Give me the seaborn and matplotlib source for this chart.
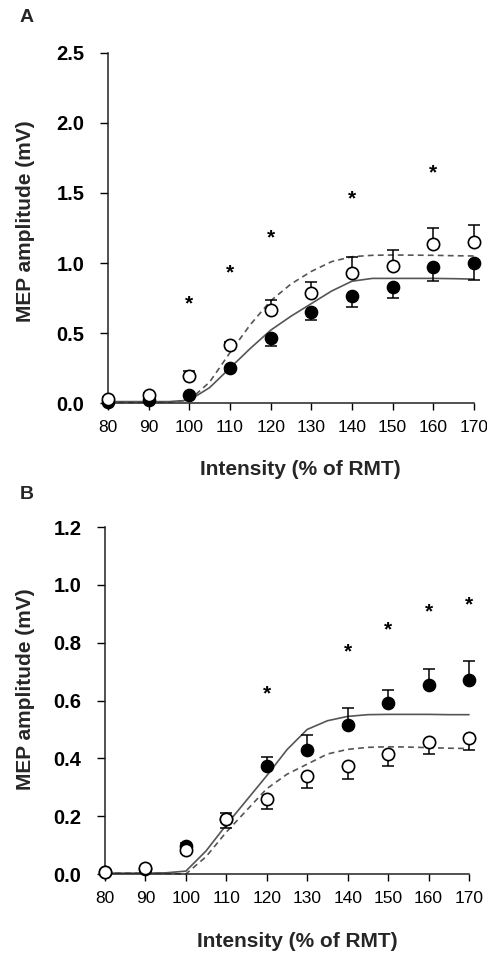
import pandas as pd
import matplotlib.pyplot as plt
import seaborn as sns

# -----------------------------
# Data
# -----------------------------
intensity = [80, 90, 100, 110, 120, 130, 140, 150, 160, 170]

# Panel A
a_filled = [0.01, 0.02, 0.06, 0.25, 0.465, 0.647, 0.764, 0.83, 0.974, 1.00]
a_filled_se = [0.005, 0.005, 0.02, 0.02, 0.055, 0.057, 0.075, 0.08, 0.10, 0.12]
a_open = [0.03, 0.06, 0.196, 0.413, 0.663, 0.783, 0.93, 0.98, 1.136, 1.15]
a_open_se = [0.01, 0.01, 0.03, 0.025, 0.07, 0.08, 0.11, 0.11, 0.115, 0.12]
a_star_x = [100, 110, 120, 140, 160]
a_star_y = [0.71, 0.93, 1.18, 1.455, 1.645]

# Panel B
b_filled = [0.008, 0.018, 0.098, 0.19, 0.373, 0.43, 0.515, 0.593, 0.653, 0.672]
b_filled_se = [0.005, 0.005, 0.008, 0.02, 0.032, 0.05, 0.06, 0.043, 0.056, 0.065]
b_open = [0.008, 0.02, 0.083, 0.189, 0.258, 0.338, 0.373, 0.414, 0.457, 0.471]
b_open_se = [0.005, 0.005, 0.01, 0.03, 0.034, 0.04, 0.043, 0.041, 0.043, 0.043]
b_star_x = [120, 140, 150, 160, 170]
b_star_y = [0.622, 0.768, 0.843, 0.906, 0.929]

# Fitted curves, sampled from the figure
fit_x = [80, 85, 90, 95, 100, 105, 110, 115, 120, 125,
         130, 135, 140, 145, 150, 155, 160, 165, 170]
a_fit_solid = [0.01, 0.01, 0.01, 0.01, 0.02, 0.11, 0.25, 0.39, 0.52, 0.62,
               0.71, 0.80, 0.87, 0.89, 0.89, 0.89, 0.89, 0.888, 0.885]
a_fit_dashed = [0.005, 0.005, 0.005, 0.006, 0.02, 0.15, 0.36, 0.56, 0.73, 0.85,
                0.94, 1.01, 1.045, 1.055, 1.057, 1.056, 1.055, 1.052, 1.05]
b_fit_solid = [0.003, 0.003, 0.003, 0.004, 0.01, 0.08, 0.17, 0.255, 0.34, 0.43,
               0.50, 0.53, 0.545, 0.551, 0.552, 0.552, 0.552, 0.551, 0.551]
b_fit_dashed = [0.003, 0.003, 0.003, 0.002, 0.0, 0.06, 0.145, 0.22, 0.295, 0.345,
                0.38, 0.415, 0.431, 0.438, 0.44, 0.439, 0.437, 0.435, 0.434]

# -----------------------------
# Style
# -----------------------------
sns.set_theme(style="ticks")
plt.rcParams["font.family"] = ["Liberation Sans", "DejaVu Sans"]

fig = plt.figure(figsize=(4.87, 9.55), dpi=100)
W, H = 487, 955


def axes_px(left, right, top, bottom):
    return fig.add_axes([left / W, 1 - bottom / H, (right - left) / W, (bottom - top) / H])


def draw_panel(ax, filled, filled_se, filled_dir, opn, opn_se, open_dir,
               solid, dashed, star_x, star_y, ymax, ystep, lab_coords):
    curves = pd.DataFrame({"x": fit_x, "solid": solid, "dashed": dashed})
    sns.lineplot(data=curves, x="x", y="solid", ax=ax, color="#555555",
                 lw=1.2, clip_on=False)
    sns.lineplot(data=curves, x="x", y="dashed", ax=ax, color="#555555",
                 lw=1.2, clip_on=False).lines[-1].set_dashes((3.5, 2.5))

    def bars(vals, se, direction):
        yerr = [se, [0] * len(se)] if direction == "down" else [[0] * len(se), se]
        ax.errorbar(intensity, vals, yerr=yerr, fmt="none", ecolor="black",
                    elinewidth=1.1, capsize=4, capthick=1.1, clip_on=False, zorder=2)

    bars(filled, filled_se, filled_dir)
    bars(opn, opn_se, open_dir)

    pts = pd.DataFrame({"x": intensity, "filled": filled, "open": opn})
    sns.scatterplot(data=pts, x="x", y="filled", ax=ax, s=78, color="black",
                    edgecolor="black", linewidth=1.0, zorder=3, clip_on=False)
    sns.scatterplot(data=pts, x="x", y="open", ax=ax, s=78, color="white",
                    edgecolor="black", linewidth=1.2, zorder=4, clip_on=False)

    for sx, sy in zip(star_x, star_y):
        ax.text(sx, sy, "*", ha="center", va="center", fontsize=15,
                fontweight="bold", color="black")

    ax.set_xlim(80, 170)
    ax.set_ylim(0, ymax)
    ax.set_xticks(intensity)
    ticks = [round(i * ystep, 1) for i in range(int(round(ymax / ystep)) + 1)]
    ax.set_yticks(ticks)
    ax.set_yticklabels([f"{t:.1f}" for t in ticks], fontsize=14.5, fontweight="bold")
    ax.set_xticklabels([str(v) for v in intensity], fontsize=12.5)
    ax.tick_params(axis="y", direction="out", length=6, width=1, pad=11, colors="black")
    ax.tick_params(axis="x", direction="out", length=5, width=1, pad=7, colors="black")
    for sp in ["left", "bottom"]:
        ax.spines[sp].set_color("#222222")
        ax.spines[sp].set_linewidth(1.1)
    sns.despine(ax=ax)

    ax.set_xlabel("Intensity (% of RMT)", fontsize=15, fontweight="bold")
    ax.set_ylabel("MEP amplitude (mV)", fontsize=15, fontweight="bold")
    ax.xaxis.set_label_coords(*lab_coords[0])
    ax.yaxis.set_label_coords(*lab_coords[1])


# -----------------------------
# Panel A
# -----------------------------
axA = axes_px(108, 474, 53, 403)
draw_panel(axA, a_filled, a_filled_se, "down", a_open, a_open_se, "up",
           a_fit_solid, a_fit_dashed, a_star_x, a_star_y, 2.5, 0.5,
           [(0.526, -0.163), (-0.20, 0.52)])

# -----------------------------
# Panel B
# -----------------------------
axB = axes_px(105, 469, 527, 874)
draw_panel(axB, b_filled, b_filled_se, "up", b_open, b_open_se, "down",
           b_fit_solid, b_fit_dashed, b_star_x, b_star_y, 1.2, 0.2,
           [(0.527, -0.166), (-0.192, 0.532)])

fig.text(27 / W, 1 - 18 / H, "A", fontsize=14, fontweight="bold", ha="center", va="center")
fig.text(27 / W, 1 - 494 / H, "B", fontsize=14, fontweight="bold", ha="center", va="center")

plt.savefig("out.png", dpi=100)
